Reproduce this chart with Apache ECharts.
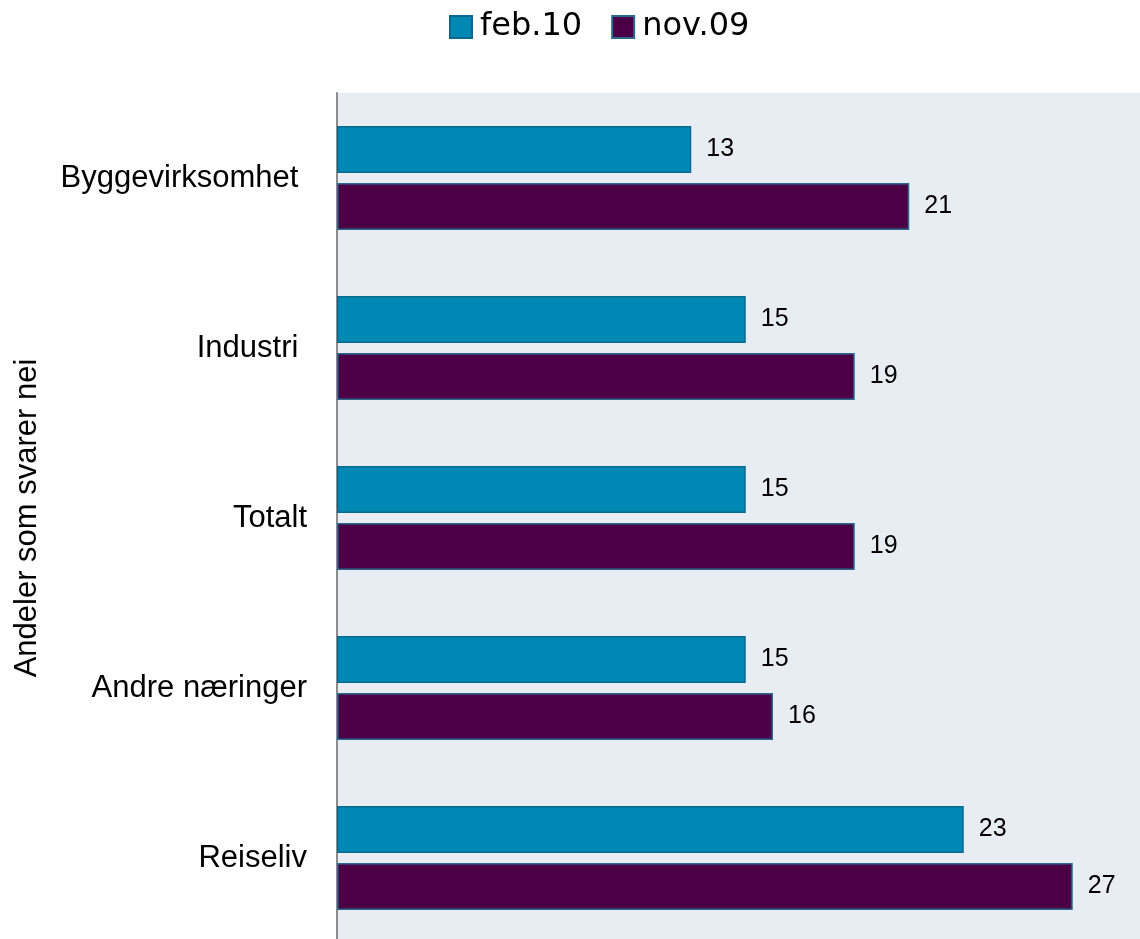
<!DOCTYPE html>
<html><head><meta charset="utf-8">
<script src="https://cdn.jsdelivr.net/npm/echarts@6/dist/echarts.min.js"></script>
<style>html,body{margin:0;padding:0;background:#fff}#c{width:1140px;height:939px}</style>
</head><body><div id="c"></div>
<script>
const categories = ["Byggevirksomhet ", "Industri ", "Totalt", "Andre næringer", "Reiseliv"];
const seriesNames = ["feb.10", "nov.09"];
const feb10 = [13, 15, 15, 15, 23];
const nov09 = [21, 19, 19, 16, 27];
const axisName = "Andeler som svarer nei";

const font = "Liberation Sans";
const chart = echarts.init(document.getElementById('c'));
chart.setOption({
  animation: false,
  textStyle: {fontFamily: font},
  legend: {
    top: 11, left: 449, padding: 0, icon: 'rect',
    itemWidth: 22, itemHeight: 22, itemGap: 29,
    textStyle: {fontSize: 32, color: '#000', fontFamily: 'DejaVu Sans', padding: [0, 0, 0, 3]},
    data: seriesNames
  },
  grid: {left: 337, top: 93, width: 817.5, height: 850, outerBoundsMode: 'none', containLabel: false,
         show: true, backgroundColor: '#e8ecf3', borderWidth: 0},
  xAxis: {type: 'value', min: 0, max: 30, show: false},
  yAxis: {
    type: 'category', data: categories, inverse: true,
    axisLine: {show: true, lineStyle: {color: '#8c8c8c', width: 2}},
    axisTick: {show: false},
    axisLabel: {fontSize: 31, color: '#000', margin: 30, fontFamily: font},
    name: axisName, nameLocation: 'middle', nameGap: 294, nameRotate: 90,
    nameTextStyle: {fontSize: 31, color: '#000', fontFamily: font}
  },
  series: [
    {name: seriesNames[0], type: 'bar', data: feb10, barWidth: 47, barGap: '21%',
     itemStyle: {color: '#0088b5', borderColor: '#0a6a8e', borderWidth: 1.5},
     label: {show: true, position: 'right', distance: 15, fontSize: 25, color: '#000', fontFamily: font}},
    {name: seriesNames[1], type: 'bar', data: nov09, barWidth: 47, barGap: '21%',
     itemStyle: {color: '#4b0046', borderColor: '#2a6a8f', borderWidth: 1.5},
     label: {show: true, position: 'right', distance: 15, fontSize: 25, color: '#000', fontFamily: font}}
  ]
});
</script></body></html>
